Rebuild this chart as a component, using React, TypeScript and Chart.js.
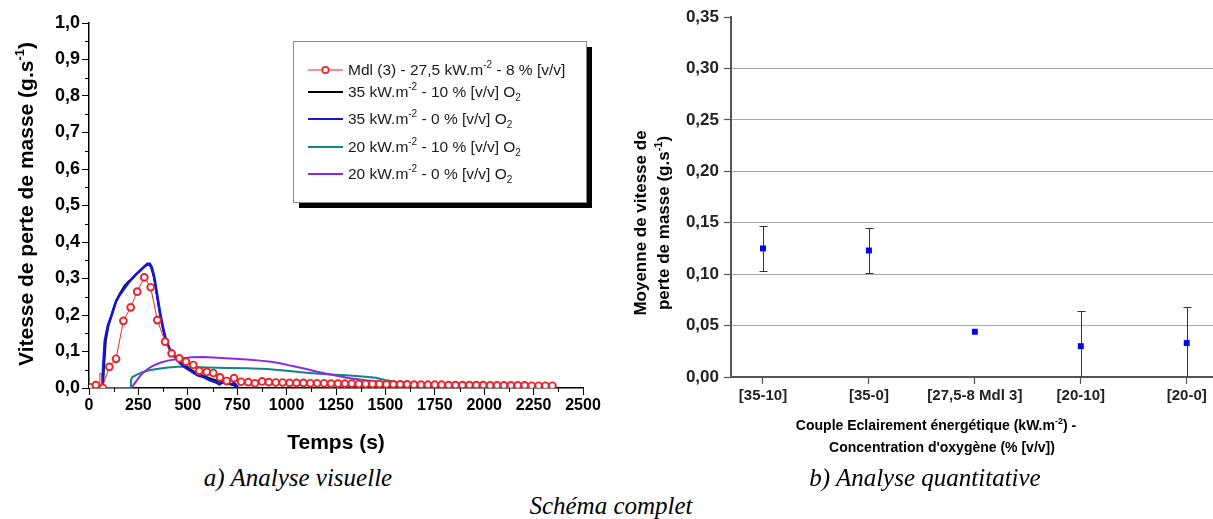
import React, { useEffect, useRef } from 'react';
import { Chart, registerables } from 'chart.js';

Chart.register(...registerables);

const SANS = '"Liberation Sans", Arial, sans-serif';

// ---------- Left chart: mass loss rate vs time ----------
const mdlTime = [5, 35, 52, 55, 63, 66, 70, 103, 137, 174, 211, 244, 280, 312, 346, 385, 418, 457, 491, 528, 558, 596, 629, 663, 697, 734, 770, 806, 840, 876, 910, 945, 980, 1015, 1050, 1085, 1120, 1155, 1190, 1225, 1260, 1295, 1330, 1365, 1400, 1435, 1470, 1505, 1540, 1575, 1610, 1645, 1680, 1715, 1750, 1785, 1820, 1855, 1890, 1925, 1960, 1995, 2030, 2065, 2100, 2135, 2170, 2205, 2240, 2275, 2310, 2345];
const mdlRate = [0.002, 0.008, 0.0, 0.04, 0.04, 0.0, 0.0, 0.058, 0.08, 0.184, 0.221, 0.264, 0.303, 0.276, 0.186, 0.127, 0.095, 0.081, 0.072, 0.063, 0.047, 0.044, 0.041, 0.029, 0.019, 0.027, 0.017, 0.016, 0.013, 0.018, 0.016, 0.015, 0.015, 0.014, 0.014, 0.014, 0.013, 0.013, 0.013, 0.012, 0.012, 0.012, 0.012, 0.011, 0.011, 0.011, 0.011, 0.010, 0.010, 0.010, 0.010, 0.009, 0.009, 0.009, 0.009, 0.009, 0.008, 0.008, 0.008, 0.008, 0.008, 0.008, 0.007, 0.007, 0.007, 0.007, 0.007, 0.007, 0.006, 0.006, 0.006, 0.006];
const mdlMarker = [1, 1, 0, 0, 0, 0, 1, 1, 1, 1, 1, 1, 1, 1, 1, 1, 1, 1, 1, 1, 1, 1, 1, 1, 1, 1, 1, 1, 1, 1, 1, 1, 1, 1, 1, 1, 1, 1, 1, 1, 1, 1, 1, 1, 1, 1, 1, 1, 1, 1, 1, 1, 1, 1, 1, 1, 1, 1, 1, 1, 1, 1, 1, 1, 1, 1, 1, 1, 1, 1, 1, 1];

const t35_10 = [0, 70, 75, 85, 100, 120, 140, 160, 180, 200, 220, 240, 260, 280, 295, 305, 315, 330, 345, 360, 375, 390, 410, 430, 460, 500, 540, 580, 620, 660, 700, 730, 750, 755];
const v35_10 = [0, 0, 0.05, 0.13, 0.175, 0.21, 0.242, 0.262, 0.28, 0.292, 0.3, 0.312, 0.322, 0.332, 0.338, 0.338, 0.33, 0.3, 0.25, 0.2, 0.16, 0.13, 0.105, 0.088, 0.07, 0.055, 0.042, 0.033, 0.025, 0.018, 0.012, 0.008, 0.003, 0];

const t35_0 = [0, 68, 72, 80, 95, 115, 135, 155, 175, 195, 215, 235, 255, 275, 295, 308, 318, 330, 345, 360, 375, 390, 410, 430, 460, 490, 520, 550, 580, 610, 640, 660, 675, 690, 705, 720, 735, 748, 755];
const v35_0 = [0, 0, 0.06, 0.13, 0.17, 0.2, 0.235, 0.255, 0.27, 0.285, 0.298, 0.31, 0.32, 0.33, 0.34, 0.34, 0.33, 0.305, 0.255, 0.205, 0.165, 0.13, 0.105, 0.09, 0.068, 0.055, 0.045, 0.035, 0.03, 0.022, 0.016, 0.01, 0.015, 0.018, 0.013, 0.01, 0.014, 0.006, 0];

const t20_10 = [0, 208, 212, 220, 240, 270, 300, 350, 400, 450, 500, 550, 600, 700, 800, 900, 1000, 1100, 1200, 1300, 1400, 1450, 1500, 1550, 1600, 1700, 1800, 1900, 2000, 2100, 2200, 2300, 2350];
const v20_10 = [0, 0, 0.022, 0.03, 0.036, 0.043, 0.048, 0.053, 0.056, 0.058, 0.058, 0.057, 0.056, 0.055, 0.054, 0.052, 0.047, 0.042, 0.038, 0.035, 0.031, 0.028, 0.022, 0.017, 0.015, 0.013, 0.011, 0.009, 0.008, 0.007, 0.006, 0.005, 0.005];

const t20_0 = [0, 215, 230, 250, 270, 292, 320, 360, 400, 460, 520, 580, 650, 714, 800, 866, 920, 967, 1030, 1100, 1150, 1203, 1260, 1320, 1400, 1480, 1560, 1650, 1750, 1850, 1950, 2050, 2150, 2250, 2350];
const v20_0 = [0, 0, 0.012, 0.027, 0.04, 0.05, 0.06, 0.069, 0.075, 0.081, 0.084, 0.085, 0.083, 0.081, 0.078, 0.075, 0.072, 0.068, 0.06, 0.052, 0.045, 0.039, 0.033, 0.027, 0.021, 0.017, 0.014, 0.012, 0.01, 0.008, 0.007, 0.006, 0.005, 0.004, 0.004];

const leftYTicks = ['0,0', '0,1', '0,2', '0,3', '0,4', '0,5', '0,6', '0,7', '0,8', '0,9', '1,0'];
const leftXTicks = ['0', '250', '500', '750', '1000', '1250', '1500', '1750', '2000', '2250', '2500'];

type Seg = { t: string; s?: 'sup' | 'sub' };

const legendLabels: Seg[][] = [
  [{ t: 'Mdl (3) - 27,5 kW.m' }, { t: '-2', s: 'sup' }, { t: ' - 8 % [v/v]' }],
  [{ t: '35 kW.m' }, { t: '-2', s: 'sup' }, { t: ' - 10 % [v/v] O' }, { t: '2', s: 'sub' }],
  [{ t: '35 kW.m' }, { t: '-2', s: 'sup' }, { t: ' - 0 % [v/v] O' }, { t: '2', s: 'sub' }],
  [{ t: '20 kW.m' }, { t: '-2', s: 'sup' }, { t: ' - 10 % [v/v] O' }, { t: '2', s: 'sub' }],
  [{ t: '20 kW.m' }, { t: '-2', s: 'sup' }, { t: ' - 0 % [v/v] O' }, { t: '2', s: 'sub' }],
];
const legendColors = ['#e8262a', '#000000', '#1616d8', '#108585', '#8a2be2'];

const leftYTitle: Seg[] = [{ t: 'Vitesse de perte de masse (g.s' }, { t: '-1', s: 'sup' }, { t: ')' }];
const leftXTitle: Seg[] = [{ t: 'Temps (s)' }];

// ---------- Right chart: mean rate per condition ----------
const categories = ['[35-10]', '[35-0]', '[27,5-8 Mdl 3]', '[20-10]', '[20-0]'];
const meanRate = [0.125, 0.123, 0.044, 0.030, 0.033];
const rateError = [0.022, 0.0215, 0, 0.0345, 0.035];
const rightYTicks = ['0,00', '0,05', '0,10', '0,15', '0,20', '0,25', '0,30', '0,35'];

const rightYTitle1: Seg[] = [{ t: 'Moyenne de vitesse de' }];
const rightYTitle2: Seg[] = [{ t: 'perte de masse (g.s' }, { t: '-1', s: 'sup' }, { t: ')' }];
const rightXTitle1: Seg[] = [{ t: 'Couple Eclairement énergétique (kW.m' }, { t: '-2', s: 'sup' }, { t: ') -' }];
const rightXTitle2: Seg[] = [{ t: "Concentration d'oxygène (% [v/v])" }];

const captionLeft = 'a) Analyse visuelle';
const captionRight = 'b) Analyse quantitative';
const captionMain = 'Schéma complet';

function drawRich(ctx: CanvasRenderingContext2D, segs: Seg[], x: number, y: number, size: number, weight: string, align: 'left' | 'center', color: string) {
  const fN = `${weight} ${size}px ${SANS}`;
  const fS = `${weight} ${Math.round(size * 0.62)}px ${SANS}`;
  let total = 0;
  for (const sg of segs) {
    ctx.font = sg.s ? fS : fN;
    total += ctx.measureText(sg.t).width;
  }
  let cx = align === 'center' ? x - total / 2 : x;
  ctx.textAlign = 'left';
  ctx.textBaseline = 'alphabetic';
  ctx.fillStyle = color;
  for (const sg of segs) {
    ctx.font = sg.s ? fS : fN;
    const dy = sg.s === 'sup' ? -size * 0.42 : sg.s === 'sub' ? size * 0.28 : 0;
    ctx.fillText(sg.t, cx, y + dy);
    cx += ctx.measureText(sg.t).width;
  }
}

function drawRotated(ctx: CanvasRenderingContext2D, segs: Seg[], cx: number, cy: number, size: number, weight: string, color: string) {
  ctx.save();
  ctx.translate(cx + size * 0.36, cy);
  ctx.rotate(-Math.PI / 2);
  drawRich(ctx, segs, 0, 0, size, weight, 'center', color);
  ctx.restore();
}

function LeftChart() {
  const ref = useRef<HTMLCanvasElement>(null);
  useEffect(() => {
    if (!ref.current) return;
    const pts = (t: number[], v: number[]) => t.map((x, i) => ({ x, y: v[i] }));
    const leftDecor = {
      id: 'leftDecor',
      afterDraw(chart: any) {
        const ctx = chart.ctx as CanvasRenderingContext2D;
        const xs = chart.scales.x;
        const ys = chart.scales.y;
        ctx.save();
        ctx.strokeStyle = '#000';
        ctx.lineWidth = 1;
        // minor ticks
        for (let i = 0; i < leftXTicks.length - 1; i++) {
          const px = Math.round(xs.getPixelForValue((Number(leftXTicks[i]) + Number(leftXTicks[i + 1])) / 2)) + 0.5;
          ctx.beginPath();
          ctx.moveTo(px, ys.bottom);
          ctx.lineTo(px, ys.bottom + 4);
          ctx.stroke();
        }
        for (let i = 0; i < leftYTicks.length - 1; i++) {
          const a = parseFloat(leftYTicks[i].replace(',', '.'));
          const b = parseFloat(leftYTicks[i + 1].replace(',', '.'));
          const py = Math.round(ys.getPixelForValue((a + b) / 2)) + 0.5;
          ctx.beginPath();
          ctx.moveTo(xs.left, py);
          ctx.lineTo(xs.left - 4, py);
          ctx.stroke();
        }
        // axis titles
        drawRotated(ctx, leftYTitle, 25, 204, 21, 'bold', '#000');
        drawRich(ctx, leftXTitle, 336, 449, 21, 'bold', 'center', '#000');
        // legend box with shadow
        const bx = 293, by = 41, bw = 293, bh = 161;
        ctx.fillStyle = '#000';
        ctx.fillRect(bx + 6, by + 6, bw, bh);
        ctx.fillStyle = '#fff';
        ctx.fillRect(bx, by, bw, bh);
        ctx.strokeStyle = '#8a8a8a';
        ctx.lineWidth = 1;
        ctx.strokeRect(bx + 0.5, by + 0.5, bw, bh);
        const rowsY = [70, 92, 119, 147, 174];
        legendLabels.forEach((segs, i) => {
          const yy = rowsY[i];
          ctx.strokeStyle = legendColors[i];
          ctx.lineWidth = i === 0 ? 1 : 2;
          ctx.beginPath();
          ctx.moveTo(308, yy);
          ctx.lineTo(343, yy);
          ctx.stroke();
          if (i === 0) {
            ctx.fillStyle = '#fff';
            ctx.lineWidth = 1.8;
            ctx.beginPath();
            ctx.arc(325.5, yy, 3.2, 0, Math.PI * 2);
            ctx.fill();
            ctx.stroke();
          }
          drawRich(ctx, segs, 348, yy + 5, 15.5, 'normal', 'left', '#1a1a1a');
        });
        ctx.restore();
      },
    };
    const chart = new Chart(ref.current, {
      type: 'line',
      data: {
        datasets: [
          {
            label: 'Mdl (3) - 27,5 kW.m-2 - 8 % [v/v]',
            data: pts(mdlTime, mdlRate),
            borderColor: legendColors[0],
            borderWidth: 1,
            pointRadius: (c: any) => (mdlMarker[c.dataIndex] ? 3.4 : 0),
            pointBorderWidth: 1.9,
            pointBorderColor: legendColors[0],
            pointBackgroundColor: 'rgba(255,255,255,0.9)',
            order: 0,
          },
          {
            label: '35 kW.m-2 - 10 % [v/v] O2',
            data: pts(t35_10, v35_10),
            borderColor: legendColors[1],
            borderWidth: 2,
            pointRadius: 0,
            order: 2,
          },
          {
            label: '35 kW.m-2 - 0 % [v/v] O2',
            data: pts(t35_0, v35_0),
            borderColor: legendColors[2],
            borderWidth: 2.6,
            pointRadius: 0,
            order: 1,
          },
          {
            label: '20 kW.m-2 - 10 % [v/v] O2',
            data: pts(t20_10, v20_10),
            borderColor: legendColors[3],
            borderWidth: 2,
            pointRadius: 0,
            order: 4,
          },
          {
            label: '20 kW.m-2 - 0 % [v/v] O2',
            data: pts(t20_0, v20_0),
            borderColor: legendColors[4],
            borderWidth: 2,
            pointRadius: 0,
            order: 3,
          },
        ],
      },
      options: {
        animation: false,
        responsive: false,
        devicePixelRatio: 1,
        layout: { padding: { left: 0, right: 37, top: 23, bottom: 0 } },
        plugins: { legend: { display: false }, tooltip: { enabled: false } },
        scales: {
          x: {
            type: 'linear',
            min: 0,
            max: 2500,
            afterFit: (s: any) => { s.height = 72; },
            afterBuildTicks: (s: any) => { s.ticks = leftXTicks.map((l) => ({ value: Number(l) })); },
            ticks: {
              callback: (v: any) => leftXTicks.find((l) => Number(l) === v) ?? '',
              font: { family: SANS, weight: 'bold', size: 16 },
              color: '#000',
              padding: 1,
              maxRotation: 0,
              autoSkip: false,
            },
            grid: { drawOnChartArea: false, tickLength: 7, tickColor: '#000', tickWidth: 1 },
            border: { color: '#000', width: 1.5 },
          },
          y: {
            type: 'linear',
            min: 0,
            max: 1,
            afterFit: (s: any) => { s.width = 89; },
            afterBuildTicks: (s: any) => { s.ticks = leftYTicks.map((l) => ({ value: parseFloat(l.replace(',', '.')) })); },
            ticks: {
              callback: (v: any) => leftYTicks.find((l) => Math.abs(parseFloat(l.replace(',', '.')) - v) < 1e-9) ?? '',
              font: { family: SANS, weight: 'bold', size: 18 },
              color: '#000',
              padding: 2,
            },
            grid: { drawOnChartArea: false, tickLength: 7, tickColor: '#000', tickWidth: 1 },
            border: { color: '#000', width: 1.5 },
          },
        },
      },
      plugins: [leftDecor],
    } as any);
    return () => chart.destroy();
  }, []);
  return <canvas ref={ref} width={620} height={460} style={{ position: 'absolute', left: 0, top: 0, width: 620, height: 460 }} />;
}

function RightChart() {
  const ref = useRef<HTMLCanvasElement>(null);
  useEffect(() => {
    if (!ref.current) return;
    const errorBars = {
      id: 'errorBars',
      beforeDatasetsDraw(chart: any) {
        const ctx = chart.ctx as CanvasRenderingContext2D;
        const xs = chart.scales.x;
        const ys = chart.scales.y;
        const area = chart.chartArea;
        ctx.save();
        ctx.beginPath();
        ctx.rect(area.left, area.top, area.right - area.left, area.bottom - area.top);
        ctx.clip();
        ctx.strokeStyle = '#333';
        ctx.lineWidth = 1;
        meanRate.forEach((m, i) => {
          const e = rateError[i];
          if (!e) return;
          const px = Math.round(xs.getPixelForValue(i + 1)) + 0.5;
          const top = Math.round(ys.getPixelForValue(m + e)) + 0.5;
          const bot = Math.round(ys.getPixelForValue(m - e)) + 0.5;
          ctx.beginPath();
          ctx.moveTo(px, top);
          ctx.lineTo(px, bot);
          ctx.moveTo(px - 4, top);
          ctx.lineTo(px + 4, top);
          ctx.moveTo(px - 4, bot);
          ctx.lineTo(px + 4, bot);
          ctx.stroke();
        });
        ctx.restore();
      },
      afterDraw(chart: any) {
        const ctx = chart.ctx as CanvasRenderingContext2D;
        ctx.save();
        drawRotated(ctx, rightYTitle1, 40, 223, 17, 'bold', '#000');
        drawRotated(ctx, rightYTitle2, 63, 223, 17, 'bold', '#000');
        drawRich(ctx, rightXTitle1, 336, 430, 14, 'bold', 'center', '#000');
        drawRich(ctx, rightXTitle2, 342, 452, 14, 'bold', 'center', '#000');
        ctx.restore();
      },
    };
    const chart = new Chart(ref.current, {
      type: 'scatter',
      data: {
        datasets: [
          {
            label: 'Moyenne',
            data: meanRate.map((v, i) => ({ x: i + 1, y: v })),
            pointStyle: 'rect',
            pointRadius: 4.2,
            pointBackgroundColor: '#0000ff',
            pointBorderColor: '#0000ff',
            pointBorderWidth: 0,
          },
        ],
      },
      options: {
        animation: false,
        responsive: false,
        devicePixelRatio: 1,
        layout: { padding: { left: 0, right: 27, top: 17, bottom: 0 } },
        plugins: { legend: { display: false }, tooltip: { enabled: false } },
        scales: {
          x: {
            type: 'linear',
            min: 0.698,
            max: 5.248,
            afterFit: (s: any) => { s.height = 83; },
            afterBuildTicks: (s: any) => { s.ticks = categories.map((_, i) => ({ value: i + 1 })); },
            ticks: {
              callback: (v: any) => categories[v - 1] ?? '',
              font: { family: SANS, weight: 'bold', size: 15 },
              color: '#222',
              padding: 3,
              maxRotation: 0,
              autoSkip: false,
            },
            grid: { drawOnChartArea: false, tickLength: 7, tickColor: '#555', tickWidth: 1.2 },
            border: { color: '#555', width: 2 },
          },
          y: {
            type: 'linear',
            min: 0,
            max: 0.35,
            afterFit: (s: any) => { s.width = 131; },
            afterBuildTicks: (s: any) => { s.ticks = rightYTicks.map((l) => ({ value: parseFloat(l.replace(',', '.')) })); },
            ticks: {
              callback: (v: any) => rightYTicks.find((l) => Math.abs(parseFloat(l.replace(',', '.')) - v) < 1e-9) ?? '',
              font: { family: SANS, weight: 'bold', size: 17 },
              color: '#222',
              padding: 5,
            },
            grid: {
              color: (c: any) => (c.tick && c.tick.value > 0.34 ? 'rgba(0,0,0,0)' : '#a8a8a8'),
              lineWidth: 1,
              tickLength: 7,
              tickColor: '#555',
              tickWidth: 1.2,
            },
            border: { color: '#555', width: 2 },
          },
        },
      },
      plugins: [errorBars],
    } as any);
    return () => chart.destroy();
  }, []);
  return <canvas ref={ref} width={640} height={460} style={{ position: 'absolute', left: 600, top: 0, width: 640, height: 460 }} />;
}

const captionStyle: React.CSSProperties = {
  position: 'absolute',
  width: 400,
  textAlign: 'center',
  fontFamily: '"Liberation Serif", "Times New Roman", serif',
  fontStyle: 'italic',
  fontSize: 25,
  lineHeight: '28px',
  color: '#000',
  whiteSpace: 'nowrap',
};

export default function App() {
  return (
    <div style={{ position: 'fixed', left: 0, top: 0, width: 1213, height: 519, background: '#fff', overflow: 'hidden' }}>
      <LeftChart />
      <RightChart />
      <div style={{ ...captionStyle, left: 98, top: 464 }}>{captionLeft}</div>
      <div style={{ ...captionStyle, left: 725, top: 464 }}>{captionRight}</div>
      <div style={{ ...captionStyle, left: 411, top: 492 }}>{captionMain}</div>
    </div>
  );
}
